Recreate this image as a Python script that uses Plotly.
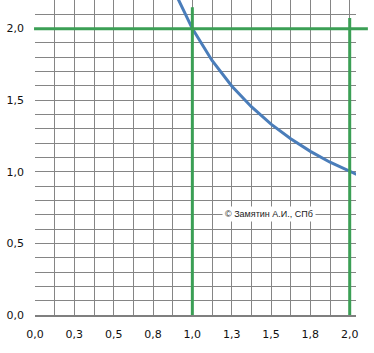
import plotly.graph_objects as go

# data
curve_x = [0.875, 1.0, 1.125, 1.25, 1.375, 1.5, 1.625, 1.75, 1.875, 2.0, 2.125]
curve_y = [2.286, 2.0, 1.778, 1.6, 1.455, 1.333, 1.231, 1.143, 1.067, 1.0, 0.941]

x_grid_vals = [0, 0.125, 0.25, 0.375, 0.5, 0.625, 0.75, 0.875, 1.0,
               1.125, 1.25, 1.375, 1.5, 1.625, 1.75, 1.875, 2.0]
x_tick_labels = ["0,0", "", "0,3", "", "0,5", "", "0,8", "", "1,0",
                 "", "1,3", "", "1,5", "", "1,8", "", "2,0"]
y_grid_vals = [0.0, 0.1, 0.2, 0.3, 0.4, 0.5, 0.6, 0.7, 0.8, 0.9, 1.0,
               1.1, 1.2, 1.3, 1.4, 1.5, 1.6, 1.7, 1.8, 1.9, 2.0, 2.1]
y_tick_labels = ["0,0", "", "", "", "", "0,5", "", "", "", "", "1,0",
                 "", "", "", "", "1,5", "", "", "", "", "2,0", ""]

ref_x_lines = [1.0, 2.0]
ref_x_tops = [2.15, 2.075]
ref_y_line = 2.0

x_range = [0, 2.04]
y_range = [0, 2.2]

GREEN = "#3b9f55"
BLUE = "#4a7dba"
GRID = "#858585"

fig = go.Figure()
fig.add_trace(go.Scatter(x=curve_x, y=curve_y, mode="lines",
                         line=dict(color=BLUE, width=3), showlegend=False,
                         hoverinfo="skip"))

def xp(v):
    return (v - x_range[0]) / (x_range[1] - x_range[0])

def yp(v):
    return (v - y_range[0]) / (y_range[1] - y_range[0])

shapes = []
for xv, top in zip(ref_x_lines, ref_x_tops):
    shapes.append(dict(type="line", xref="paper", yref="paper",
                       x0=xp(xv), x1=xp(xv), y0=0, y1=yp(top),
                       line=dict(color=GREEN, width=3), layer="above"))
shapes.append(dict(type="line", xref="paper", yref="paper",
                   x0=-0.003, x1=1.037, y0=yp(ref_y_line), y1=yp(ref_y_line),
                   line=dict(color=GREEN, width=3), layer="above"))

fig.update_layout(
    width=374, height=353,
    margin=dict(l=35, r=18, t=0, b=38),
    paper_bgcolor="white", plot_bgcolor="white",
    font=dict(family="DejaVu Sans", size=11, color="#111111"),
    shapes=shapes,
    xaxis=dict(range=x_range, tickmode="array", tickvals=x_grid_vals,
               ticktext=x_tick_labels, showgrid=True, gridcolor=GRID,
               gridwidth=1, zeroline=False, showline=True,
               linecolor="#7f7f7f", linewidth=2, ticks="",
               ticklabelstandoff=8, fixedrange=True),
    yaxis=dict(range=y_range, tickmode="array", tickvals=y_grid_vals,
               ticktext=y_tick_labels, showgrid=True, gridcolor=GRID,
               gridwidth=1, zeroline=False, showline=False, ticks="",
               ticklabelstandoff=10, fixedrange=True),
    annotations=[dict(x=1.49, y=0.705, xref="x", yref="y",
                      text="© Замятин А.И., СПб", showarrow=False,
                      font=dict(family="Liberation Sans", size=9, color="#222222"),
                      bgcolor="white", borderpad=2)],
)

fig.write_html("out.html")
